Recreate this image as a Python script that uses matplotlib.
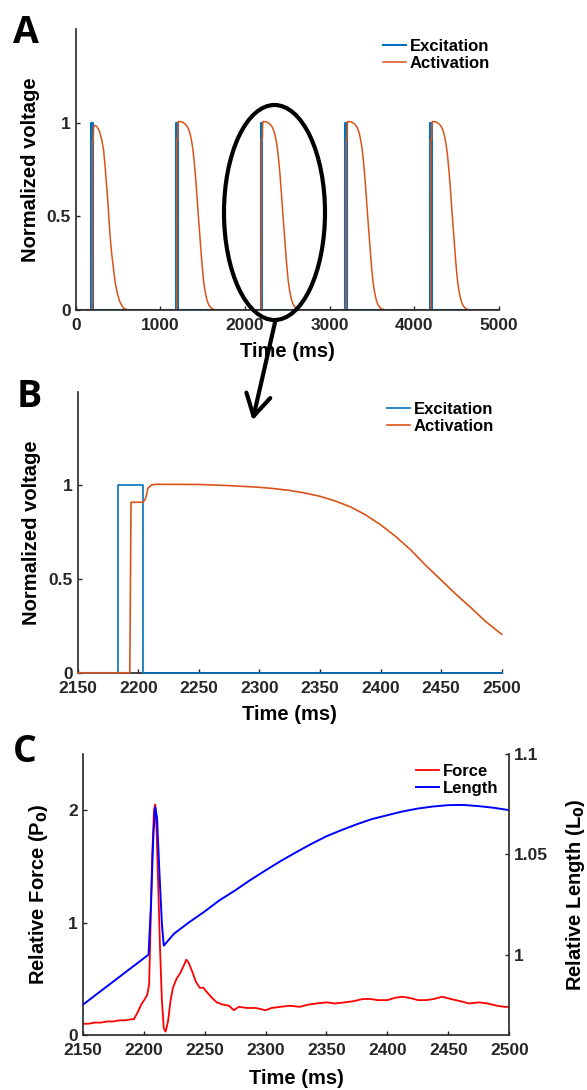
import numpy as np
import matplotlib.pyplot as plt
from matplotlib.patches import Ellipse, FancyArrowPatch

plt.rcParams['font.family'] = ['Liberation Sans', 'DejaVu Sans']
plt.rcParams['font.weight'] = 'bold'

# excitation pulses (ms)
pulse_on = [183, 1183, 2183, 3183, 4183]
pulse_len = 21

# activation of one beat (beat 3, the zoomed one), absolute time in ms
beat_t = [2150, 2193, 2194, 2204, 2206, 2208, 2211, 2215, 2250, 2275, 2300, 2312, 2325,
          2337, 2350, 2362, 2375, 2387, 2400, 2412, 2425, 2437, 2450, 2462, 2475, 2487,
          2500, 2512, 2525, 2537, 2550, 2562, 2575, 2600, 2625, 2650, 2700]
beat_act = [0, 0, 0.91, 0.91, 0.93, 0.985, 1.003, 1.006, 1.005, 0.999, 0.99, 0.983, 0.973,
            0.96, 0.942, 0.918, 0.886, 0.845, 0.79, 0.73, 0.655, 0.575, 0.495, 0.42, 0.345,
            0.272, 0.205, 0.15, 0.11, 0.08, 0.055, 0.038, 0.025, 0.01, 0.004, 0.001, 0]
# first beat decays faster
first_t = [0, 195, 196, 205, 212, 230, 248, 280, 307, 330, 346, 362, 378, 392, 405,
           425, 444, 465, 491, 520, 562, 620]
first_act = [0, 0, 0.90, 0.90, 0.98, 0.985, 0.98, 0.955, 0.91, 0.85, 0.77, 0.68, 0.59,
             0.49, 0.40, 0.30, 0.23, 0.15, 0.09, 0.045, 0.01, 0]

# panel C
force_t = [2150, 2155, 2160, 2165, 2170, 2175, 2180, 2185, 2190, 2192, 2195, 2198, 2201,
           2203, 2204.5, 2205.5, 2207, 2208.5, 2209.5, 2210.5, 2212, 2213.5, 2215, 2216.5,
           2218, 2220, 2222, 2224, 2227, 2230, 2233, 2235, 2237, 2240, 2243, 2246, 2249,
           2252, 2256, 2260, 2265, 2270, 2274, 2278, 2285, 2292, 2300, 2305, 2312, 2320,
           2328, 2335, 2342, 2350, 2357, 2365, 2372, 2380, 2386, 2392, 2400, 2406, 2412,
           2418, 2425, 2432, 2438, 2445, 2452, 2460, 2467, 2475, 2482, 2490, 2496, 2500]
force_v = [0.10, 0.10, 0.11, 0.11, 0.12, 0.12, 0.13, 0.13, 0.14, 0.14, 0.20, 0.27, 0.32,
           0.36, 0.45, 0.9, 1.6, 2.0, 2.05, 1.85, 1.3, 0.75, 0.3, 0.06,
           0.03, 0.12, 0.3, 0.42, 0.50, 0.55, 0.62, 0.67, 0.64, 0.56, 0.47, 0.42, 0.42,
           0.38, 0.33, 0.29, 0.27, 0.26, 0.22, 0.25, 0.24, 0.24, 0.22, 0.24, 0.25, 0.26,
           0.25, 0.27, 0.28, 0.29, 0.28, 0.29, 0.30, 0.32, 0.32, 0.31, 0.31, 0.33, 0.34,
           0.33, 0.31, 0.31, 0.32, 0.34, 0.32, 0.30, 0.28, 0.29, 0.28, 0.26, 0.25, 0.25]
len_t = [2150, 2204, 2206, 2208, 2209.5, 2211, 2213, 2215, 2216.5, 2225, 2237, 2250, 2262,
         2275, 2287, 2300, 2312, 2325, 2337, 2350, 2362, 2375, 2387, 2400, 2412, 2425,
         2437, 2450, 2462, 2475, 2487, 2500]
len_v = [0.975, 1.000, 1.025, 1.060, 1.0735, 1.068, 1.04, 1.015, 1.0045, 1.0105, 1.016,
         1.0215, 1.027, 1.032, 1.037, 1.042, 1.0465, 1.051, 1.055, 1.059, 1.062, 1.065,
         1.0675, 1.0695, 1.0713, 1.0728, 1.0738, 1.0745, 1.0746, 1.074, 1.0732, 1.072]

c_exc = '#0072BD'
c_act = '#D95319'
axcol = '#262626'

# build full 5 s series
exc_t, exc_v = [0], [0]
for t0 in pulse_on:
    exc_t += [t0, t0, t0 + pulse_len, t0 + pulse_len]
    exc_v += [0, 1, 1, 0]
exc_t.append(5000)
exc_v.append(0)

act_t = list(first_t)
act_v = list(first_act)
for t0 in pulse_on[1:]:
    shift = t0 - 2183
    act_t += [t + shift for t in beat_t]
    act_v += beat_act
act_t.append(5000)
act_v.append(0)

fig = plt.figure(figsize=(5.87, 10.9), dpi=100)
axA = fig.add_axes([0.129, 0.7156, 0.721, 0.2578])
axB = fig.add_axes([0.1324, 0.3828, 0.7223, 0.2578])
axC = fig.add_axes([0.1409, 0.0505, 0.7268, 0.2578])


def style(ax):
    ax.spines['top'].set_visible(False)
    ax.spines['right'].set_visible(False)
    for s in ax.spines.values():
        s.set_color(axcol)
        s.set_linewidth(1.2)
    ax.tick_params(direction='in', length=3, width=1, colors=axcol, labelsize=12.5)
    ax.tick_params(axis='x', pad=6)
    ax.tick_params(axis='y', pad=3.5)


# A
axA.plot(exc_t, exc_v, color=c_exc, lw=1.5, label='Excitation')
axA.plot(act_t, act_v, color=c_act, lw=1.1, label='Activation')
axA.set_xlim(0, 5000)
axA.set_ylim(0, 1.5)
axA.set_xticks([0, 1000, 2000, 3000, 4000, 5000])
axA.set_yticks([0, 0.5, 1])
axA.set_yticklabels(['0', '0.5', '1'])
style(axA)
axA.set_xlabel('Time (ms)', fontsize=14.5, fontweight='bold')
axA.set_ylabel('Normalized voltage', fontsize=14.5, fontweight='bold')
axA.xaxis.set_label_coords(0.5, -0.115)
axA.yaxis.set_label_coords(-0.0855, 0.5)
axA.legend(loc='upper right', bbox_to_anchor=(0.979, 0.966), frameon=False,
           borderpad=0, borderaxespad=0, handlelength=1.4, handletextpad=0.2,
           labelspacing=0.15, prop={'size': 12, 'weight': 'bold'})

# B
b_exc_t = [2150, pulse_on[2], pulse_on[2], pulse_on[2] + pulse_len, pulse_on[2] + pulse_len, 2500]
b_exc_v = [0, 0, 1, 1, 0, 0]
bt = [t for t in beat_t if t <= 2500]
axB.plot(b_exc_t, b_exc_v, color=c_exc, lw=1.2, label='Excitation', zorder=3, clip_on=False)
axB.plot(bt, beat_act[:len(bt)], color=c_act, lw=1.2, label='Activation', zorder=3, clip_on=False)
axB.set_xlim(2150, 2500)
axB.set_ylim(0, 1.5)
axB.set_xticks(np.arange(2150, 2501, 50))
axB.set_yticks([0, 0.5, 1])
axB.set_yticklabels(['0', '0.5', '1'])
style(axB)
axB.set_xlabel('Time (ms)', fontsize=14.5, fontweight='bold')
axB.set_ylabel('Normalized voltage', fontsize=14.5, fontweight='bold')
axB.xaxis.set_label_coords(0.5, -0.115)
axB.yaxis.set_label_coords(-0.0856, 0.5)
axB.legend(loc='upper right', bbox_to_anchor=(0.981, 0.965), frameon=False,
           borderpad=0, borderaxespad=0, handlelength=1.4, handletextpad=0.2,
           labelspacing=0.15, prop={'size': 12, 'weight': 'bold'})

# C
ax2 = axC.twinx()
lf, = axC.plot(force_t, force_v, color='#FF0000', lw=1.3, label='Force')
ll, = ax2.plot(len_t, len_v, color='#0000FF', lw=1.4, label='Length')
axC.set_xlim(2150, 2500)
axC.set_ylim(0, 2.5)
axC.set_xticks(np.arange(2150, 2501, 50))
axC.set_yticks([0, 1, 2])
style(axC)
ax2.set_ylim(0.96, 1.1)
ax2.set_yticks([1, 1.05, 1.1])
ax2.set_yticklabels(['1', '1.05', '1.1'])
ax2.spines['top'].set_visible(False)
ax2.spines['left'].set_visible(False)
ax2.spines['bottom'].set_visible(False)
ax2.spines['right'].set_color(axcol)
ax2.spines['right'].set_linewidth(1.2)
ax2.tick_params(direction='in', length=3, width=1, colors=axcol, labelsize=12.5, pad=3.5)
axC.set_xlabel('Time (ms)', fontsize=14.5, fontweight='bold')
axC.set_ylabel('Relative Force (P$_\\mathbf{0}$)', fontsize=14.5, fontweight='bold')
ax2.set_ylabel('Relative Length (L$_\\mathbf{0}$)', fontsize=14.5, fontweight='bold')
axC.xaxis.set_label_coords(0.5, -0.12)
axC.yaxis.set_label_coords(-0.077, 0.5)
ax2.yaxis.set_label_coords(1.127, 0.5)
ax2.legend([lf, ll], ['Force', 'Length'], loc='upper right', bbox_to_anchor=(0.9735, 0.966),
           frameon=False, borderpad=0, borderaxespad=0, handlelength=1.4, handletextpad=0.2,
           labelspacing=0.15, prop={'size': 12, 'weight': 'bold'})

# panel letters
W, H = 587.0, 1090.0
for lab, x, y in [('A', 13, 43), ('B', 17, 407), ('C', 13, 762)]:
    fig.text(x / W, 1 - y / H, lab, fontsize=27, fontweight='bold', ha='left', va='baseline',
             family=['Open Sans', 'DejaVu Sans'])

# zoom ellipse and arrow
ell = Ellipse((274.5 / W, 1 - 212.5 / H), 101 / W, 215 / H, transform=fig.transFigure,
              fill=False, edgecolor='black', lw=3, zorder=10)
fig.add_artist(ell)
arr = FancyArrowPatch((276 / W, 1 - 318 / H), (252 / W, 1 - 423 / H), transform=fig.transFigure,
                      arrowstyle='->,head_length=0.7,head_width=0.4', mutation_scale=22,
                      lw=3, color='black', zorder=10)
fig.add_artist(arr)

fig.savefig('out.png', dpi=100)
